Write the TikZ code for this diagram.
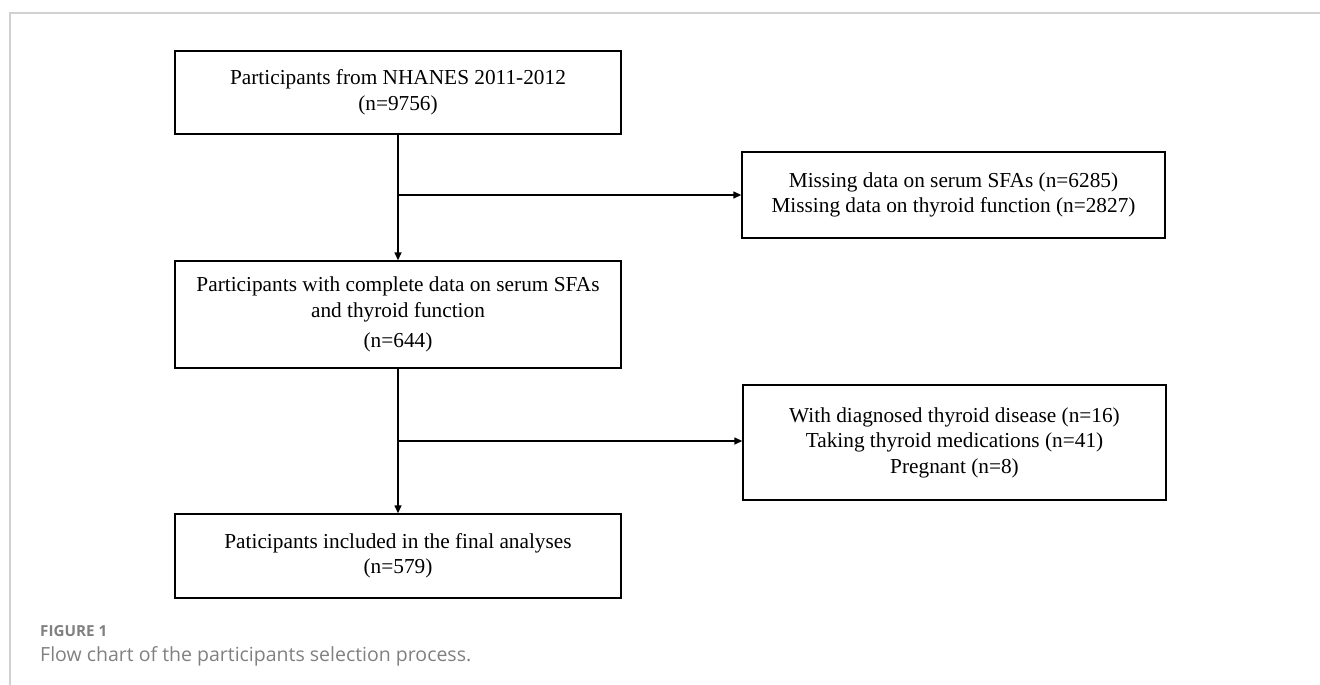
\documentclass[tikz,border=0pt]{standalone}
\usepackage{fontspec}
\setmainfont{Liberation Serif}
\newfontfamily\capfont{Open Sans}
\usepackage{tikz}
\usetikzlibrary{arrows.meta, positioning}

\begin{document}
\begin{tikzpicture}[x=1pt, y=-1pt, >={Triangle[length=8pt, width=7pt]},
    box/.style={draw, line width=1.4pt, align=center, inner sep=0pt,
        font=\fontsize{21.3}{25.5}\selectfont},
    mainbox/.style={box, minimum width=446pt},
    sidebox/.style={box, minimum width=423pt},
    flow/.style={line width=1.4pt}]

    % =================================================================
    % 1. KHUNG VÀ VÙNG VẼ
    % =================================================================
    \useasboundingbox (0,0) rectangle (1320,685);
    \draw[color=black!18, line width=1.2pt] (10,685) -- (10,13) -- (1320,13);

    % =================================================================
    % 2. CÁC Ô CHÍNH (CỘT TRÁI)
    % =================================================================
    \node[mainbox, minimum height=83pt] (start) at (398,92.5)
        {Participants from NHANES 2011-2012\\(n=9756)};
    \node[mainbox, minimum height=107pt] (complete) at (398,314.5)
        {Participants with complete data on serum SFAs\\and thyroid function\\[5pt](n=644)};
    \node[mainbox, minimum height=84pt] (final) at (398,556)
        {Paticipants included in the final analyses\\(n=579)};

    % =================================================================
    % 3. CÁC Ô LOẠI TRỪ (CỘT PHẢI)
    % =================================================================
    \node[sidebox, minimum height=86pt] (missing) at (953.5,195)
        {Missing data on serum SFAs (n=6285)\\Missing data on thyroid function (n=2827)};
    \node[sidebox, minimum height=115pt] (excluded) at (954.5,442.5)
        {With diagnosed thyroid disease (n=16)\\Taking thyroid medications (n=41)\\Pregnant (n=8)};

    % =================================================================
    % 4. MŨI TÊN
    % =================================================================
    \coordinate (split1) at (398,195);
    \coordinate (split2) at (398,441);

    \draw[flow, ->] (start) -- (complete);
    \draw[flow, ->] (split1) -- (missing.west |- split1);
    \draw[flow, ->] (complete) -- (final);
    \draw[flow, ->] (split2) -- (excluded.west |- split2);

    % =================================================================
    % 5. CHÚ THÍCH HÌNH
    % =================================================================
    \node[anchor=base west, inner sep=0pt, text=black!50,
        font=\capfont\bfseries\fontsize{15.2}{17}\selectfont] (figlabel) at (40,636)
        {FIGURE 1};
    \node[anchor=base west, inner sep=0pt, text=black!50,
        font=\capfont\fontsize{19.5}{22}\selectfont] (figcaption) at (40,661)
        {Flow chart of the participants selection process.};

\end{tikzpicture}
\end{document}
